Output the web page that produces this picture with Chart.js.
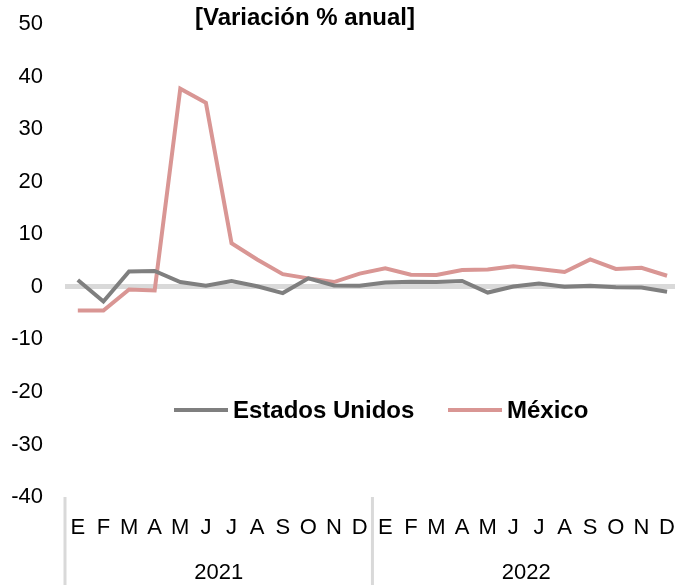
<!DOCTYPE html>
<html>
<head>
<meta charset="utf-8">
<script src="https://cdn.jsdelivr.net/npm/chart.js@4.4.1/dist/chart.umd.min.js"></script>
<style>
  html, body { margin: 0; padding: 0; background: #fff; overflow: hidden; }
  #wrap { width: 675px; height: 585px; position: relative; overflow: hidden; }
</style>
</head>
<body>
<div id="wrap"><canvas id="chart" width="693" height="585"></canvas></div>
<script>
// month labels (two years)
const months = ['E','F','M','A','M','J','J','A','S','O','N','D',
                'E','F','M','A','M','J','J','A','S','O','N','D'];
const years = ['2021', '2022'];

// variación % anual
const usa = [1.3, -2.8, 2.9, 3.0, 0.9, 0.2, 1.1, 0.1, -1.2, 1.6, 0.25, 0.2,
             0.8, 0.95, 0.9, 1.1, -1.1, 0.05, 0.6, 0.0, 0.2, -0.1, -0.15, -0.95];
const mexico = [-4.5, -4.5, -0.5, -0.7, 37.7, 35.0, 8.3, 5.2, 2.4, 1.6, 0.9, 2.5,
                3.5, 2.3, 2.25, 3.2, 3.3, 3.9, 3.4, 2.8, 5.2, 3.4, 3.6, 2.1];

const yTicks = { min: -40, max: 50, step: 10 };

const GRAY = '#7f7f7f';
const PINK = '#d99694';
const FONT = "'Liberation Sans', Arial, Helvetica, sans-serif";

// title, legend inside the plot, and year separators
const decor = {
  id: 'decor',
  afterDraw(chart) {
    const ctx = chart.ctx;
    const x = chart.scales.x;
    const area = chart.chartArea;
    const step = x.getPixelForValue(1) - x.getPixelForValue(0);

    ctx.save();
    // separators between years
    ctx.strokeStyle = '#d9d9d9';
    ctx.lineWidth = 3;
    [0, 12, 24].forEach(i => {
      const px = x.getPixelForValue(i) - step / 2;
      ctx.beginPath();
      ctx.moveTo(px, area.bottom);
      ctx.lineTo(px, chart.height);
      ctx.stroke();
    });

    // title
    ctx.fillStyle = '#000';
    ctx.font = 'bold 24px ' + FONT;
    ctx.textAlign = 'center';
    ctx.textBaseline = 'middle';
    ctx.fillText('[Variación % anual]', 305, 18);

    // legend
    ctx.font = 'bold 24px ' + FONT;
    const items = [
      { text: 'Estados Unidos', color: GRAY, x: 174 },
      { text: 'México', color: PINK, x: 448 }
    ];
    ctx.textAlign = 'left';
    items.forEach(it => {
      ctx.strokeStyle = it.color;
      ctx.lineWidth = 4;
      ctx.beginPath();
      ctx.moveTo(it.x, 410);
      ctx.lineTo(it.x + 54, 410);
      ctx.stroke();
      ctx.fillStyle = '#000';
      ctx.fillText(it.text, it.x + 59, 411);
    });
    ctx.restore();
  }
};

new Chart(document.getElementById('chart').getContext('2d'), {
  type: 'line',
  data: {
    labels: months,
    datasets: [
      { label: 'Estados Unidos', data: usa, borderColor: GRAY, borderWidth: 4,
        pointRadius: 0, tension: 0, fill: false },
      { label: 'México', data: mexico, borderColor: PINK, borderWidth: 4,
        pointRadius: 0, tension: 0, fill: false }
    ]
  },
  options: {
    responsive: false,
    animation: false,
    layout: { padding: { top: 24, right: 0, left: 0, bottom: 0 } },
    plugins: {
      legend: { display: false },
      title: { display: false },
      tooltip: { enabled: false }
    },
    scales: {
      x: {
        type: 'category',
        offset: true,
        grid: { display: false, drawTicks: false },
        border: { display: false },
        ticks: { color: '#000', font: { size: 22, family: FONT }, padding: 18,
                 maxRotation: 0, autoSkip: false },
        afterFit: s => { s.height = 45; }
      },
      x2: {
        type: 'category',
        labels: years,
        position: 'bottom',
        offset: true,
        grid: { display: false, drawTicks: false },
        border: { display: false },
        ticks: { color: '#000', font: { size: 22, family: FONT }, padding: 18,
                 maxRotation: 0 },
        afterFit: s => { s.height = 43; }
      },
      y: {
        min: yTicks.min,
        max: yTicks.max,
        border: { display: false },
        grid: {
          drawTicks: false,
          color: c => (c.tick && c.tick.value === 0) ? '#d9d9d9' : 'rgba(0,0,0,0)',
          lineWidth: c => (c.tick && c.tick.value === 0) ? 5 : 0
        },
        ticks: { stepSize: yTicks.step, color: '#000', font: { size: 22, family: FONT },
                 padding: 22 },
        afterFit: s => { s.width = 65; s.paddingTop = 0; s.paddingBottom = 0; }
      }
    }
  },
  plugins: [decor]
});
</script>
</body>
</html>
